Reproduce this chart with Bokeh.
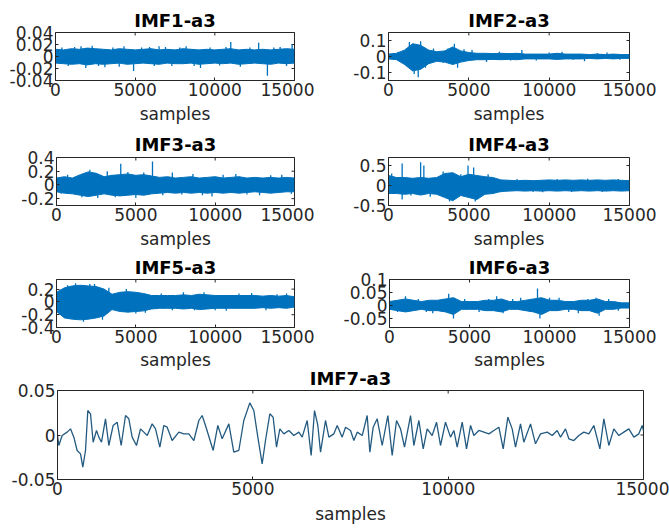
import math
from bokeh.plotting import figure
from bokeh.layouts import column, row
from bokeh.models import FixedTicker, Range1d
from bokeh.embed import file_html
from bokeh.resources import INLINE

# ---------------- data ----------------
env_x = [0, 500, 1000, 1500, 2000, 2500, 3000, 3500, 4000, 4500, 5000, 5500, 6000, 6500, 7000,
         7500, 8000, 8500, 9000, 9500, 10000, 10500, 11000, 11500, 12000, 12500, 13000, 13500,
         14000, 14500, 15000]

imf1_up = [0.012, 0.011, 0.013, 0.012, 0.014, 0.013, 0.012, 0.011, 0.013, 0.012, 0.011, 0.012, 0.013,
           0.011, 0.012, 0.011, 0.013, 0.012, 0.011, 0.012, 0.011, 0.012, 0.013, 0.011, 0.012, 0.011,
           0.012, 0.011, 0.012, 0.013, 0.012]
imf1_lo = [-0.011, -0.012, -0.013, -0.012, -0.014, -0.012, -0.013, -0.012, -0.011, -0.013, -0.012,
           -0.011, -0.012, -0.013, -0.011, -0.012, -0.012, -0.011, -0.013, -0.012, -0.011, -0.012,
           -0.011, -0.013, -0.012, -0.011, -0.012, -0.013, -0.011, -0.012, -0.011]
imf1_spk_x = [400, 800, 1200, 1600, 1900, 2300, 2700, 3100, 3600, 4000, 4300, 4900, 5400, 5900, 6200,
              6500, 6900, 7300, 7800, 8200, 8700, 9100, 9700, 10300, 10700, 11000, 11600, 12200,
              12750, 13300, 13700, 14100, 14500, 14850]
imf1_spk_y = [0.015, -0.016, 0.016, 0.017, -0.019, 0.018, -0.016, -0.018, 0.015, -0.017, 0.017,
              -0.024, 0.015, 0.016, -0.016, 0.017, 0.016, -0.016, 0.015, 0.017, -0.016, -0.019, 0.015,
              -0.015, 0.016, 0.024, -0.017, 0.015, 0.023, -0.032, 0.015, 0.016, -0.016, 0.020]

imf2_up = [0.015, 0.02, 0.04, 0.08, 0.07, 0.04, 0.03, 0.035, 0.06, 0.035, 0.025, 0.02, 0.02, 0.018,
           0.02, 0.018, 0.02, 0.015, 0.015, 0.015, 0.015, 0.02, 0.015, 0.015, 0.015, 0.012, 0.015,
           0.012, 0.015, 0.012, 0.012]
imf2_lo = [-0.015, -0.02, -0.05, -0.09, -0.08, -0.045, -0.03, -0.035, -0.05, -0.035, -0.025, -0.02,
           -0.02, -0.018, -0.02, -0.018, -0.02, -0.015, -0.015, -0.015, -0.015, -0.018, -0.015,
           -0.015, -0.015, -0.012, -0.015, -0.012, -0.015, -0.012, -0.012]
imf2_spk_x = [600, 1100, 1300, 1450, 1600, 1850, 2000, 2300, 2800, 3400, 3700, 4100, 4300, 4700, 5200,
              6100, 6900, 7600, 8300, 9200, 10000, 10800, 11500, 12200, 13000, 13600, 14400]
imf2_spk_y = [0.03, -0.04, 0.09, 0.07, -0.11, -0.13, 0.095, -0.07, 0.05, -0.04, 0.05, 0.08, -0.07,
              0.045, 0.04, -0.035, 0.03, -0.025, 0.04, -0.025, 0.025, 0.03, -0.02, -0.03, 0.02, 0.025,
              -0.02]

imf3_up = [0.1, 0.12, 0.1, 0.15, 0.19, 0.17, 0.12, 0.14, 0.15, 0.16, 0.14, 0.15, 0.13, 0.11, 0.12,
           0.1, 0.11, 0.12, 0.1, 0.11, 0.12, 0.1, 0.11, 0.12, 0.1, 0.11, 0.1, 0.11, 0.1, 0.11, 0.1]
imf3_lo = [-0.1, -0.12, -0.13, -0.15, -0.17, -0.15, -0.13, -0.15, -0.16, -0.15, -0.14, -0.15, -0.13,
           -0.12, -0.11, -0.12, -0.11, -0.12, -0.11, -0.12, -0.11, -0.12, -0.11, -0.12, -0.11, -0.1,
           -0.11, -0.12, -0.11, -0.1, -0.1]
imf3_spk_x = [300, 700, 1600, 2100, 2600, 3200, 3700, 4050, 4500, 5000, 5500, 6050, 6700, 7300, 7900,
              8600, 9200, 9800, 10500, 11300, 12000, 12800, 13500, 14200, 14800]
imf3_spk_y = [-0.13, 0.15, -0.18, 0.22, -0.19, 0.2, -0.18, 0.31, 0.19, -0.19, 0.18, 0.34, -0.15,
              0.18, -0.14, 0.16, -0.15, -0.17, 0.15, 0.16, -0.14, -0.15, 0.14, 0.15, -0.13]

imf4_up = [0.25, 0.2, 0.2, 0.18, 0.2, 0.18, 0.2, 0.3, 0.32, 0.22, 0.28, 0.25, 0.22, 0.2, 0.14, 0.13,
           0.12, 0.13, 0.12, 0.13, 0.14, 0.13, 0.14, 0.13, 0.14, 0.13, 0.14, 0.13, 0.14, 0.13, 0.12]
imf4_lo = [-0.2, -0.2, -0.22, -0.2, -0.24, -0.2, -0.22, -0.3, -0.38, -0.25, -0.3, -0.35, -0.22, -0.2,
           -0.15, -0.14, -0.13, -0.14, -0.13, -0.14, -0.13, -0.14, -0.13, -0.14, -0.13, -0.14, -0.13,
           -0.14, -0.13, -0.14, -0.13]
imf4_spk_x = [200, 850, 850, 1400, 2000, 2200, 2600, 3400, 3800, 4500, 4950, 5300, 5400, 6200, 7000,
              8000, 9000, 9600, 10500, 11400, 12400, 13300, 14300]
imf4_spk_y = [0.3, 0.55, -0.35, -0.25, 0.58, 0.5, -0.28, 0.35, -0.4, 0.28, 0.5, 0.45, -0.4, 0.28,
              -0.17, 0.16, -0.16, -0.17, 0.16, -0.16, 0.17, -0.16, 0.16]

imf5_up = [0.15, 0.22, 0.25, 0.26, 0.25, 0.24, 0.2, 0.12, 0.15, 0.16, 0.15, 0.13, 0.1, 0.1, 0.1, 0.1,
           0.11, 0.1, 0.12, 0.11, 0.1, 0.1, 0.1, 0.1, 0.1, 0.1, 0.09, 0.1, 0.09, 0.1, 0.08]
imf5_lo = [-0.15, -0.25, -0.27, -0.28, -0.27, -0.25, -0.22, -0.12, -0.15, -0.16, -0.15, -0.14, -0.11,
           -0.1, -0.1, -0.1, -0.11, -0.1, -0.12, -0.11, -0.1, -0.1, -0.1, -0.1, -0.1, -0.1, -0.09,
           -0.1, -0.09, -0.1, -0.08]
imf5_spk_x = [250, 700, 1200, 1700, 2100, 2400, 2900, 3300, 3650, 4400, 5000, 5600, 6600, 7300, 8000,
              8700, 9300, 10000, 10700, 11500, 12300, 13200, 13900, 14500]
imf5_spk_y = [-0.2, 0.26, 0.29, -0.31, 0.28, 0.28, -0.28, 0.22, -0.1, 0.2, -0.18, -0.17, 0.13, -0.13,
              0.15, -0.13, 0.15, -0.13, -0.14, 0.13, 0.14, -0.13, 0.12, 0.13]

imf6_up = [0.015, 0.02, 0.025, 0.02, 0.015, 0.02, 0.02, 0.025, 0.03, 0.015, 0.015, 0.015, 0.02, 0.02,
           0.025, 0.015, 0.015, 0.02, 0.025, 0.03, 0.02, 0.02, 0.015, 0.015, 0.02, 0.02, 0.025, 0.015,
           0.015, 0.01, 0.01]
imf6_lo = [-0.015, -0.02, -0.025, -0.02, -0.015, -0.02, -0.02, -0.025, -0.035, -0.015, -0.015, -0.015,
           -0.02, -0.02, -0.025, -0.015, -0.015, -0.02, -0.025, -0.035, -0.02, -0.02, -0.015, -0.015,
           -0.02, -0.02, -0.03, -0.015, -0.015, -0.01, -0.01]
imf6_spk_x = [500, 1000, 1800, 2300, 2700, 3300, 3700, 4000, 4700, 5600, 6200, 6700, 7100, 7700, 8200,
              8800, 9250, 9400, 10000, 10600, 11200, 11800, 12400, 12900, 13100, 13700, 14300]
imf6_spk_y = [-0.025, 0.035, 0.025, -0.025, -0.03, 0.025, 0.045, -0.05, 0.025, -0.025, 0.025, 0.035,
              -0.03, 0.025, 0.03, -0.025, 0.065, -0.05, 0.03, 0.03, -0.025, -0.03, 0.025, 0.03, -0.04,
              0.025, -0.02]

imf7_x = [0, 34, 119, 247, 333, 418, 503, 589, 648, 717, 776, 845, 913, 998, 1058, 1126, 1229, 1314,
          1425, 1527, 1630, 1741, 1826, 1911, 2022, 2125, 2210, 2296, 2423, 2509, 2620, 2722, 2807,
          2935, 3106, 3234, 3362, 3490, 3618, 3703, 3788, 3985, 4104, 4215, 4386,
          4513, 4641, 4769, 4923, 5025, 5128, 5239, 5324, 5435, 5520, 5606, 5691, 5794, 5922, 6050,
          6178, 6263, 6391, 6493, 6579, 6664, 6733, 6861, 6946, 7074, 7160, 7287, 7373, 7501, 7586,
          7672, 7800, 7927, 7996, 8081, 8183, 8311, 8456, 8567, 8678, 8781, 8883, 9037, 9122, 9250,
          9361, 9463, 9591, 9702, 9804, 9932, 10060,
          10146, 10231, 10359, 10470, 10573, 10658, 10786, 10914, 11042, 11170, 11298, 11409, 11528,
          11639, 11724, 11852, 11937, 12108, 12236, 12364, 12535, 12663, 12791, 12876, 13004, 13089,
          13217, 13345, 13473, 13601, 13729, 13883, 13985, 14113, 14241, 14369, 14497, 14625, 14753,
          14881, 14966, 15000]
imf7_y = [-0.0006, -0.0118, -0.0006, 0.0032, 0.0069, -0.0024, -0.0174, -0.0212, -0.0361, -0.0174,
          0.0275, 0.0238, -0.0081, 0.0051, -0.0024, -0.0081, 0.0182, -0.0118, 0.0107, 0.0144, -0.0118,
          0.0219, 0.0182, -0.0024, -0.0118, 0.0069, 0.0032, -0.0006, 0.0125, 0.0069, -0.0137, 0.0107,
          0.0088, -0.0062, 0.0032, 0.0013, 0.0013, -0.0062, 0.0163, 0.0219, 0.0107, -0.0174, 0.0107,
          -0.0043, 0.0125,
          -0.0193, -0.0174, 0.0163, 0.0361, 0.0275, -0.0024, -0.0324, -0.0062, 0.0238, 0.0200, -0.0137,
          0.0069, 0.0013, 0.0051, -0.0006, 0.0032, -0.0024, 0.0163, -0.0230, 0.0275, 0.0107, -0.0193,
          0.0163, -0.0024, 0.0013, 0.0107, -0.0024, 0.0088, 0.0051, -0.0062, 0.0032, -0.0006, 0.0219,
          -0.0193, 0.0088, 0.0182, -0.0118, 0.0219, -0.0230, 0.0163, 0.0069, -0.0137, 0.0219, -0.0118,
          0.0163, -0.0155, 0.0069, -0.0006, 0.0144, -0.0118, 0.0144, -0.0024,
          0.0051, -0.0137, 0.0144, -0.0155, 0.0107, -0.0006, 0.0051, 0.0032, 0.0013, 0.0051, 0.0088,
          -0.0155, 0.0200, 0.0069, -0.0137, 0.0125, -0.0081, 0.0125, -0.0099, 0.0013, 0.0032, -0.0006,
          0.0051, -0.0024, 0.0069, -0.0043, -0.0062, -0.0006, 0.0032, 0.0013, 0.0107, -0.0155, 0.0182,
          -0.0118, 0.0069, -0.0006, 0.0032, 0.0069, -0.0024, 0.0013, 0.0107, 0.0050]

x_ticks = [0, 5000, 10000, 15000]
x_tick_labels = ["0", "5000", "10000", "15000"]

titles = ["IMF1-a3", "IMF2-a3", "IMF3-a3", "IMF4-a3", "IMF5-a3", "IMF6-a3", "IMF7-a3"]
y_ranges = [(-0.04, 0.04), (-0.15, 0.15), (-0.3, 0.4), (-0.5, 0.7), (-0.4, 0.35), (-0.085, 0.1),
            (-0.05, 0.05)]
y_ticks = [[-0.04, -0.02, 0, 0.02, 0.04], [-0.1, 0, 0.1], [-0.2, 0, 0.2, 0.4], [-0.5, 0, 0.5],
           [-0.4, -0.2, 0, 0.2], [-0.05, 0, 0.05, 0.1], [-0.05, 0, 0.05]]
y_tick_labels = [["-0.04", "-0.02", "0", "0.02", "0.04"], ["-0.1", "0", "0.1"],
                 ["-0.2", "0", "0.2", "0.4"], ["-0.5", "0", "0.5"], ["-0.4", "-0.2", "0", "0.2"],
                 ["-0.05", "0", "0.05", "0.1"], ["-0.05", "0", "0.05"]]

# ---------------- styling ----------------
BLUE = "#0072BD"
AX = "#262626"
FONT = "DejaVu Sans"


def panel(i, width, height, bl, br, bt, bb, lab_standoff, title_standoff):
    p = figure(width=width, height=height, output_backend="svg", toolbar_location=None,
               min_border_left=bl, min_border_right=br, min_border_top=bt, min_border_bottom=bb,
               x_range=Range1d(0, 15000), y_range=Range1d(*y_ranges[i]))
    p.title.text = titles[i]
    p.title.align = "center"
    p.title.text_font = FONT
    p.title.text_font_size = "18px"
    p.title.text_font_style = "bold"
    p.title.text_color = "black"
    p.title.standoff = title_standoff
    p.grid.visible = False
    p.outline_line_color = AX
    p.outline_line_alpha = 1
    p.outline_line_width = 1
    p.background_fill_color = "white"
    p.border_fill_color = None
    xa = p.below[0]
    ya = p.left[0]
    for ax in (xa, ya):
        ax.axis_line_color = AX
        ax.major_tick_line_color = AX
        ax.minor_tick_line_color = None
        ax.major_tick_in = 3
        ax.major_tick_out = 0
        ax.major_label_text_font = FONT
        ax.major_label_text_font_size = "17px"
        ax.major_label_text_color = AX
        ax.major_label_standoff = 2
    xa.ticker = FixedTicker(ticks=x_ticks)
    xa.major_label_overrides = dict(zip(x_ticks, x_tick_labels))
    ya.ticker = FixedTicker(ticks=y_ticks[i])
    ya.major_label_overrides = dict(zip(y_ticks[i], y_tick_labels[i]))
    xa.axis_label = "samples"
    xa.axis_label_text_font = FONT
    xa.axis_label_text_font_size = "17px"
    xa.axis_label_text_font_style = "normal"
    xa.axis_label_text_color = AX
    xa.axis_label_standoff = lab_standoff
    # mirrored inner ticks on the top and right edges of the box (clipped to the frame)
    ytop = y_ranges[i][1]
    p.scatter(x=x_ticks, y=[ytop] * len(x_ticks), marker="dash", angle=math.pi / 2, size=6,
              line_color=AX, line_width=1)
    p.scatter(x=[15000] * len(y_ticks[i]), y=y_ticks[i], marker="dash", size=6,
              line_color=AX, line_width=1)
    return p


def noisy(p, up, lo, sx, sy):
    p.varea(x=env_x, y1=lo, y2=up, fill_color=BLUE, fill_alpha=1)
    p.line(x=env_x, y=up, line_color=BLUE, line_width=1)
    p.line(x=env_x, y=lo, line_color=BLUE, line_width=1)
    p.segment(x0=sx, y0=[0] * len(sx), x1=sx, y1=sy, line_color=BLUE, line_width=1.3)


p1 = panel(0, 314, 128, 55, 20, 32, 48, 5, 3)
noisy(p1, imf1_up, imf1_lo, imf1_spk_x, imf1_spk_y)
p2 = panel(1, 345, 128, 74, 30, 32, 48, 5, 3)
noisy(p2, imf2_up, imf2_lo, imf2_spk_x, imf2_spk_y)

p3 = panel(2, 314, 124, 56, 20, 29, 47, 5, 5)
noisy(p3, imf3_up, imf3_lo, imf3_spk_x, imf3_spk_y)
p4 = panel(3, 345, 124, 74, 30, 29, 47, 5, 5)
noisy(p4, imf4_up, imf4_lo, imf4_spk_x, imf4_spk_y)

p5 = panel(4, 314, 120, 56, 20, 27, 45, 4, 3)
noisy(p5, imf5_up, imf5_lo, imf5_spk_x, imf5_spk_y)
p6 = panel(5, 345, 120, 75, 30, 27, 45, 4, 3)
noisy(p6, imf6_up, imf6_lo, imf6_spk_x, imf6_spk_y)

p7 = panel(6, 669, 164, 57, 26, 25, 49, 6, 3)
p7.line(x=imf7_x, y=imf7_y, line_color="#235a80", line_width=1.3)
p7.margin = (-8, 0, 0, 0)

layout = column(row(p1, p2), row(p3, p4), row(p5, p6), p7)

open("out.html", "w").write(file_html(layout, INLINE))
